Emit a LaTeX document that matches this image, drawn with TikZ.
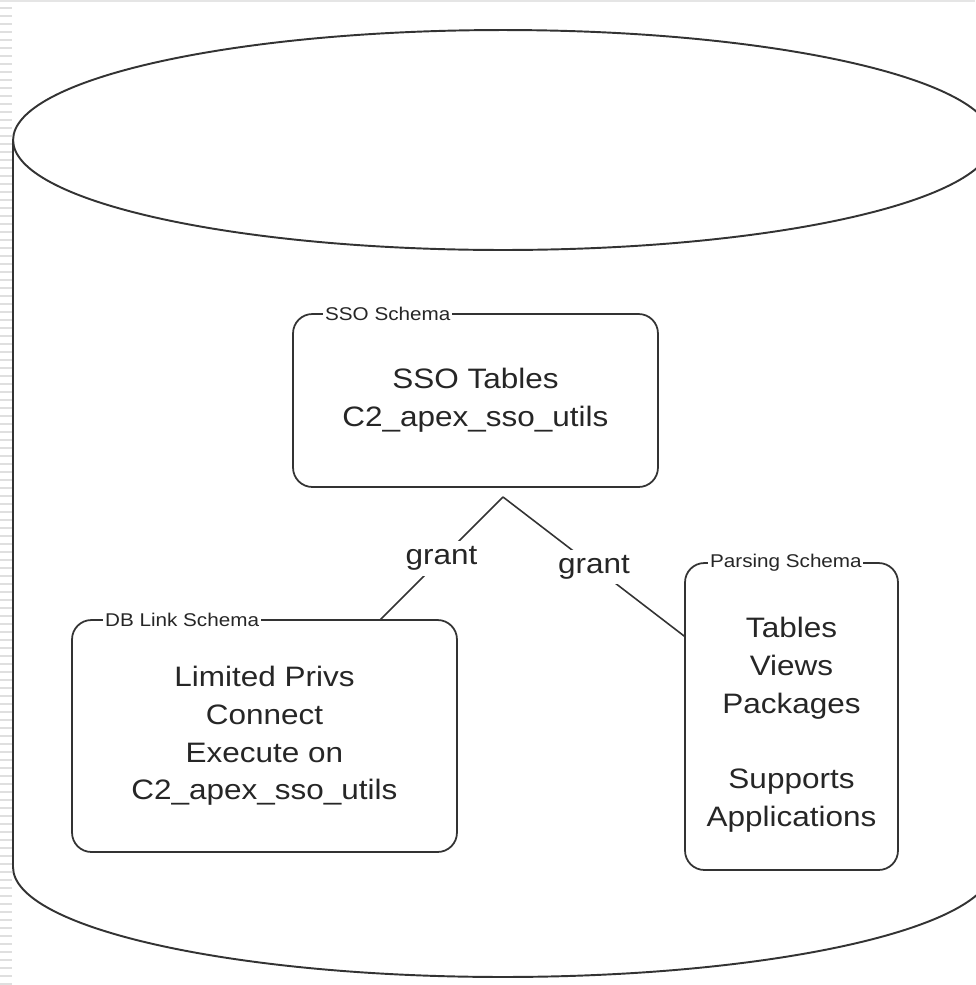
\documentclass[tikz,border=0pt]{standalone}
\usepackage{fontspec}
\setmainfont{Liberation Sans}[FakeStretch=1.12]
\usetikzlibrary{calc}

\begin{document}
\begin{tikzpicture}[x=0.02cm, y=-0.02cm,
	DbLine/.style={draw=black!80, line width=1.1pt},
	SchemaBox/.style 2 args={draw=black!80, line width=1pt, rounded corners=11pt, minimum width=#1, minimum height=#2, align=center, text=black!85, font=\fontsize{16}{21.5}\selectfont, outer sep=0pt},
	SchemaLabel/.style={anchor=west, fill=white, inner xsep=1pt, inner ysep=0pt, text=black!85, font=\fontsize{10.5}{12}\selectfont},
	Grant/.style={draw=black!80, line width=0.9pt},
	GrantLabel/.style={fill=white, inner sep=3pt, text=black!85, font=\fontsize{16}{21.5}\selectfont}]
	\useasboundingbox (0,0) rectangle (975,985);
	\draw[gray!20, line width=1.2pt] (0,1) -- (975,1);
	\foreach \y in {8,16,...,984}
		\draw[gray!25, line width=1.2pt] (0,\y) -- (12,\y);
	\draw[DbLine] (503,140) ellipse [x radius=9.8cm, y radius=2.2cm];
	\draw[DbLine] (13,140) -- (13,867) arc [start angle=180, end angle=360, x radius=9.8cm, y radius=2.2cm] -- (993,140);
	\node[SchemaBox={7.3cm}{3.46cm}] (ssobox) at (475.5,400.5) {SSO Tables\\C2\_apex\_sso\_utils};
	\node[SchemaBox={7.7cm}{4.64cm}] (dbbox) at (264.5,736) {Limited Privs\\Connect\\Execute on\\C2\_apex\_sso\_utils};
	\node[SchemaBox={4.26cm}{6.14cm}] (parsbox) at (791.5,716.5) {\rule{0pt}{21pt}Tables\\Views\\Packages\\[21.5pt]Supports\\Applications};
	\node[SchemaLabel] (ssolabel) at ($(ssobox.north west)+(30,0)$) {SSO Schema};
	\node[SchemaLabel] (dblabel) at ($(dbbox.north west)+(31,0)$) {DB Link Schema};
	\node[SchemaLabel] (parslabel) at ($(parsbox.north west)+(23,0)$) {Parsing Schema};
	\coordinate (apex) at ($(ssobox.south)+(27.5,10)$);
	\draw[Grant] (apex) -- node[GrantLabel] (grantleft) {grant} ($(dbbox.north west)!0.8!(dbbox.north east)$);
	\draw[Grant] (apex) -- node[GrantLabel] (grantright) {grant} ($(parsbox.north west)!0.24!(parsbox.south west)$);
\end{tikzpicture}
\end{document}
